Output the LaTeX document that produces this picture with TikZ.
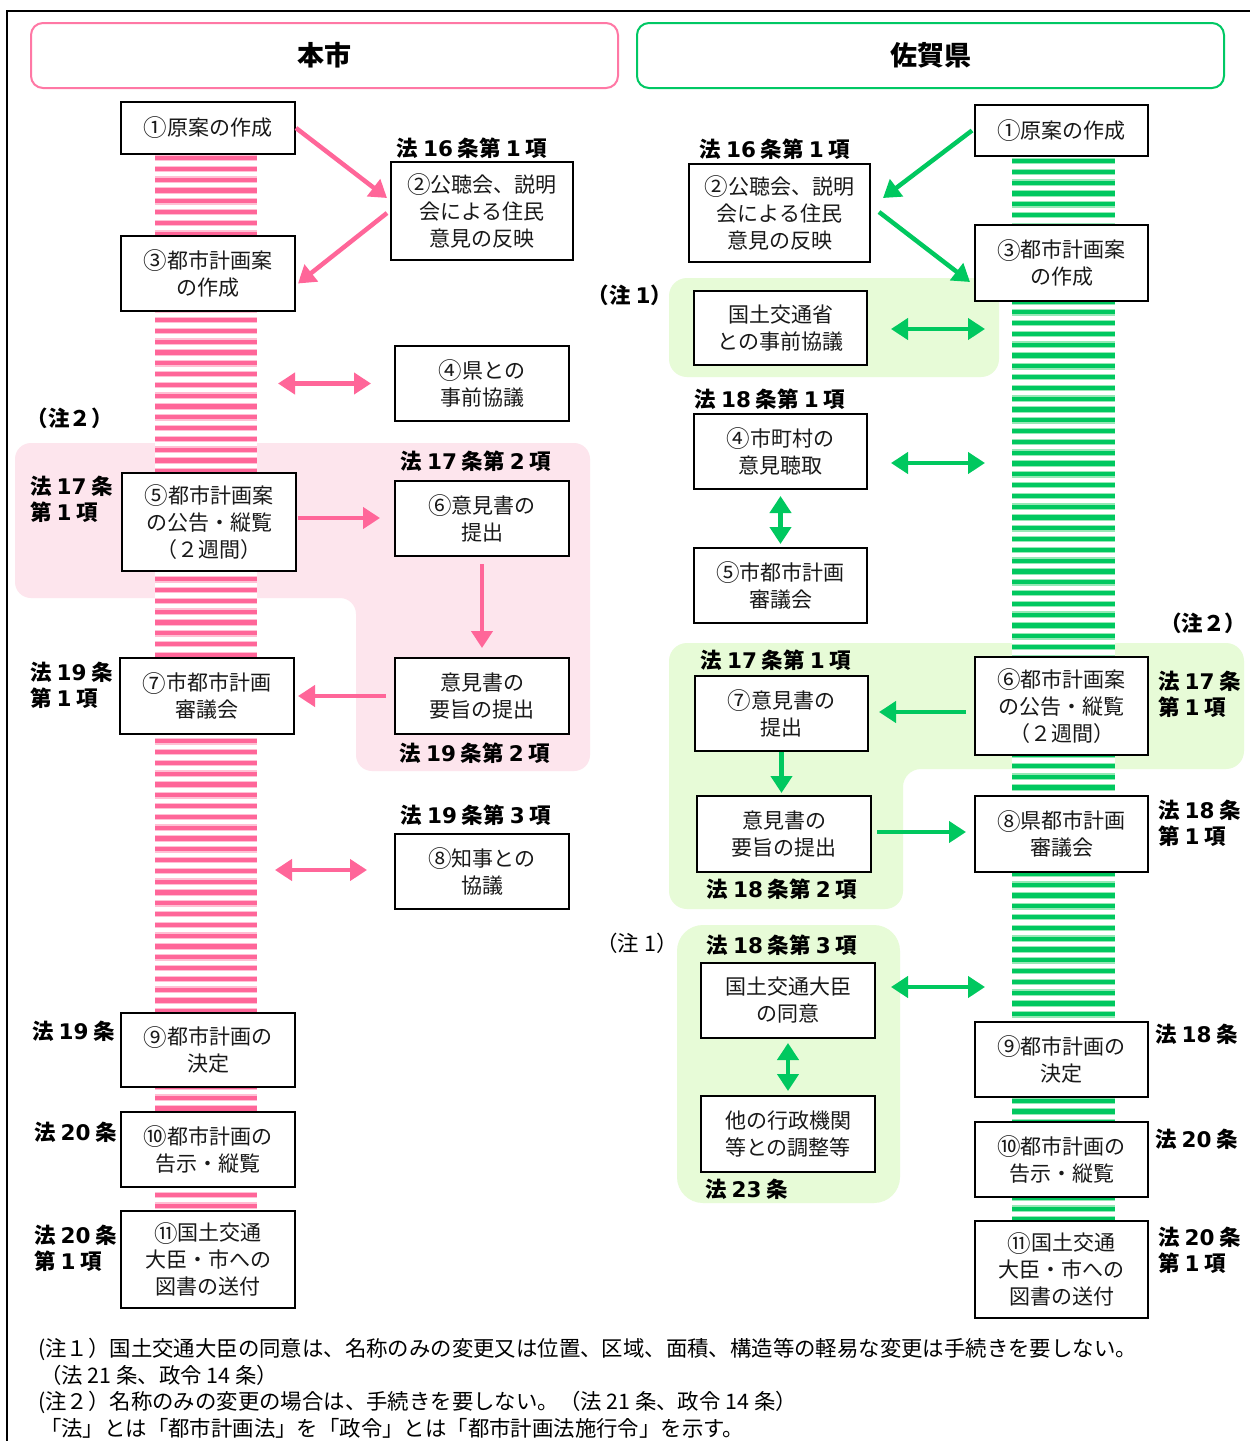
\documentclass[tikz,border=0pt]{standalone}
\usepackage{fontspec}
\usepackage{graphicx}
\setmainfont{Noto Sans CJK JP}
\newfontfamily\dvs{DejaVu Sans}
\usetikzlibrary{arrows.meta}
\definecolor{pinkD}{RGB}{255,102,153}
\definecolor{pinkL}{RGB}{255,192,212}
\definecolor{pinkR}{RGB}{253,229,237}
\definecolor{pinkH}{RGB}{255,120,165}
\definecolor{grnD}{RGB}{0,200,95}
\definecolor{grnL}{RGB}{150,232,182}
\definecolor{grnR}{RGB}{231,251,215}
\definecolor{grnH}{RGB}{0,200,100}
\newcommand\dg[1]{{\dvs #1}}
\newcommand\cn[1]{\raisebox{-0.06em}{\scalebox{1.12}{#1}}}
\begin{document}
\begin{tikzpicture}[x=1pt,y=-1pt,
  box/.style={draw=black, line width=2, fill=white, align=center, inner sep=0,
    text=black!90, font=\fontsize{21}{27}\selectfont},
  law/.style={inner sep=0, align=left, font=\fontsize{21.5}{26}\selectfont\bfseries},
  head/.style={rounded corners=12, line width=2, fill=white, minimum width=587,
    minimum height=65, font=\fontsize{27}{30}\selectfont\bfseries},
  tipA/.tip={Triangle[length=17,width=21]},
  parr/.style={draw=pinkD, line width=4.5, -tipA},
  pdbl/.style={draw=pinkD, line width=4.5, tipA-tipA},
  garr/.style={draw=grnD, line width=4.5, -tipA},
  gdbl/.style={draw=grnD, line width=4.5, tipA-tipA},
  note/.style={inner sep=0, anchor=west, font=\fontsize{21.4}{26}\selectfont}
]
\useasboundingbox (0,0) rectangle (1250,1441);
\fill[white] (0,0) rectangle (1250,1441);

% outer frame
\draw[line width=2] (7,1441) -- (7,11) -- (1250,11);

% headers
\node[head, draw=pinkH] (hL) at (324.5,55.5) {本市};
\node[head, draw=grnH] (hR) at (930.5,55.5) {佐賀県};

% shaded groups
\fill[pinkR, rounded corners=16] (15,443) -- (590,443) -- (590,771) -- (356,771)
  -- (356,598) -- (15,598) -- cycle;
\fill[grnR, rounded corners=18] (669,278) rectangle (999,377);
\fill[grnR, rounded corners=18] (669,643) -- (1244,643) -- (1244,769) -- (903,769)
  -- (903,909) -- (669,909) -- cycle;
\fill[grnR, rounded corners=26] (677,925) rectangle (900,1203);

% striped process bars
\fill[white] (155,155) rectangle (257,1211);
\foreach \i in {0,...,97}{
  \pgfmathsetmacro\yy{158+10.8*\i}
  \fill[pinkL] (155,\yy-3.3) rectangle (257,\yy+3.3);
  \fill[pinkD] (155,\yy-2.1) rectangle (257,\yy+2.1);
}
\fill[white] (1012,157) rectangle (1115,1221);
\foreach \i in {0,...,98}{
  \pgfmathsetmacro\yy{161+10.8*\i}
  \fill[grnL] (1012,\yy-3.3) rectangle (1115,\yy+3.3);
  \fill[grnD] (1012,\yy-2.1) rectangle (1115,\yy+2.1);
}

% ---- city column ----
\node[box, minimum width=174, minimum height=52] (L1) at (208,128) {\cn{①}原案の作成};
\node[box, minimum width=182, minimum height=98] (L2) at (482,211) {\cn{②}公聴会、説明\\会による住民\\意見の反映};
\node[box, minimum width=174, minimum height=75] (L3) at (208,273.5) {\cn{③}都市計画案\\の作成};
\node[box, minimum width=174, minimum height=75] (L4) at (482,383.5) {\cn{④}県との\\事前協議};
\node[box, minimum width=174, minimum height=98] (L5) at (209,522) {\cn{⑤}都市計画案\\の公告・縦覧\\（２週間）};
\node[box, minimum width=174, minimum height=75] (L6) at (482,518.5) {\cn{⑥}意見書の\\提出};
\node[box, minimum width=174, minimum height=76] (L6b) at (482,696) {意見書の\\要旨の提出};
\node[box, minimum width=174, minimum height=76] (L7) at (207,696) {\cn{⑦}市都市計画\\審議会};
\node[box, minimum width=174, minimum height=75] (L8) at (482,871.5) {\cn{⑧}知事との\\協議};
\node[box, minimum width=174, minimum height=74] (L9) at (208,1050) {\cn{⑨}都市計画の\\決定};
\node[box, minimum width=174, minimum height=75] (L10) at (208,1149.5) {\cn{⑩}都市計画の\\告示・縦覧};
\node[box, minimum width=174, minimum height=97] (L11) at (208,1259.5) {\cn{⑪}国土交通\\大臣・市への\\図書の送付};

\node[law] (aL16) at (472,148) {法 \dg{16} 条第 \dg{1} 項};
\node[law] (nL2) at (70,418) {（注２）};
\node[law, anchor=west] (aL17) at (30,499) {法 \dg{17} 条\\第 \dg{1} 項};
\node[law] (aL172) at (476,461) {法 \dg{17} 条第 \dg{2} 項};
\node[law] (aL192) at (475,753) {法 \dg{19} 条第 \dg{2} 項};
\node[law, anchor=west] (aL191) at (30,685) {法 \dg{19} 条\\第 \dg{1} 項};
\node[law] (aL193) at (476,815) {法 \dg{19} 条第 \dg{3} 項};
\node[law, anchor=west] (aL19) at (32,1031) {法 \dg{19} 条};
\node[law, anchor=west] (aL20) at (34,1132) {法 \dg{20} 条};
\node[law, anchor=west] (aL201) at (34,1248) {法 \dg{20} 条\\第 \dg{1} 項};

\coordinate (pb4) at (278,383.5);
\coordinate (pb8) at (275,870);
\draw[parr] (L1.east) -- ([xshift=-3,yshift=13]L2.west);
\draw[parr] ([xshift=-3,yshift=-2]L2.west) -- ([xshift=2,yshift=-10]L3.east);
\draw[pdbl] (pb4) -- ([xshift=-23]L4.west);
\draw[parr] ([xshift=1,yshift=4]L5.east) -- ([xshift=-14,yshift=4]L5.east -| L6.west);
\draw[parr] ([yshift=-7]L6.south) -- ([yshift=9]L6b.north);
\draw[parr] ([xshift=-8]L6b.west) -- ([xshift=3]L7.east);
\draw[pdbl] (pb8) -- ([xshift=-27,yshift=1.5]L8.west);

% ---- prefecture column ----
\node[box, minimum width=173, minimum height=51] (R1) at (1061.5,130.5) {\cn{①}原案の作成};
\node[box, minimum width=181, minimum height=98] (R2) at (779.5,213) {\cn{②}公聴会、説明\\会による住民\\意見の反映};
\node[box, minimum width=173, minimum height=76] (R3) at (1061.5,263) {\cn{③}都市計画案\\の作成};
\node[box, minimum width=173, minimum height=74] (Rm) at (780.5,328) {国土交通省\\との事前協議};
\node[box, minimum width=173, minimum height=75] (R4) at (780.5,451.5) {\cn{④}市町村の\\意見聴取};
\node[box, minimum width=173, minimum height=75] (R5) at (780.5,585.5) {\cn{⑤}市都市計画\\審議会};
\node[box, minimum width=173, minimum height=75] (R7) at (781.5,713.5) {\cn{⑦}意見書の\\提出};
\node[box, minimum width=173, minimum height=98] (R6) at (1061.5,706) {\cn{⑥}都市計画案\\の公告・縦覧\\（２週間）};
\node[box, minimum width=174, minimum height=76] (R7b) at (784,834) {意見書の\\要旨の提出};
\node[box, minimum width=173, minimum height=76] (R8) at (1061.5,834) {\cn{⑧}県都市計画\\審議会};
\node[box, minimum width=174, minimum height=75] (Rc) at (788,1000.5) {国土交通大臣\\の同意};
\node[box, minimum width=174, minimum height=76] (Ro) at (788,1134) {他の行政機関\\等との調整等};
\node[box, minimum width=173, minimum height=75] (R9) at (1061.5,1059.5) {\cn{⑨}都市計画の\\決定};
\node[box, minimum width=173, minimum height=75] (R10) at (1061.5,1159.5) {\cn{⑩}都市計画の\\告示・縦覧};
\node[box, minimum width=173, minimum height=97] (R11) at (1061.5,1269.5) {\cn{⑪}国土交通\\大臣・市への\\図書の送付};

\node[law] (aR16) at (775,149) {法 \dg{16} 条第 \dg{1} 項};
\node[law] (nR1a) at (630,295) {（注 \dg{1}）};
\node[law] (aR181) at (770,399) {法 \dg{18} 条第 \dg{1} 項};
\node[law] (nR2) at (1203,623) {（注２）};
\node[law] (aR171) at (776,660) {法 \dg{17} 条第 \dg{1} 項};
\node[law, anchor=west] (aR17) at (1158,694) {法 \dg{17} 条\\第 \dg{1} 項};
\node[law, anchor=west] (aR18) at (1158,823) {法 \dg{18} 条\\第 \dg{1} 項};
\node[law] (aR182) at (782,889) {法 \dg{18} 条第 \dg{2} 項};
\node[law, font=\fontsize{21.5}{26}\selectfont] (nR1b) at (637,943) {（注 1）};
\node[law] (aR183) at (782,945) {法 \dg{18} 条第 \dg{3} 項};
\node[law, anchor=west] (aR23) at (705,1189) {法 \dg{23} 条};
\node[law, anchor=west] (aR18b) at (1155,1034) {法 \dg{18} 条};
\node[law, anchor=west] (aR20) at (1155,1139) {法 \dg{20} 条};
\node[law, anchor=west] (aR201) at (1158,1250) {法 \dg{20} 条\\第 \dg{1} 項};

\coordinate (gb1) at (985,329);
\coordinate (gb4) at (985,463);
\coordinate (gbc) at (985,987);
\draw[garr] ([xshift=-2]R1.west) -- ([xshift=12,yshift=15]R2.east);
\draw[garr] ([xshift=8,yshift=1]R2.east) -- ([xshift=-4,yshift=-19]R3.west);
\draw[gdbl] ([xshift=23,yshift=-1]Rm.east) -- (gb1);
\draw[gdbl] ([xshift=23,yshift=-11.5]R4.east) -- (gb4);
\draw[gdbl] ([yshift=-6]R4.south) -- ([yshift=3]R5.north);
\draw[garr] ([xshift=-8,yshift=-6]R6.west) -- ([xshift=10,yshift=1.5]R7.east);
\draw[garr] (R7.south) -- ([yshift=2]R7.south |- R7b.north);
\draw[garr] ([xshift=5,yshift=2]R7b.east) -- ([xshift=-8,yshift=2]R8.west);
\draw[gdbl] ([xshift=15,yshift=13.5]Rc.east) -- (gbc);
\draw[gdbl] ([yshift=-4]Rc.south) -- ([yshift=4]Ro.north);

% ---- notes ----
\node[note] (fn1) at (38,1349) {(注１）国土交通大臣の同意は、名称のみの変更又は位置、区域、面積、構造等の軽易な変更は手続きを要しない。};
\node[note] (fn2) at (40,1375) {（法 21 条、政令 14 条）};
\node[note] (fn3) at (38,1402) {(注２）名称のみの変更の場合は、手続きを要しない。（法 21 条、政令 14 条）};
\node[note] (fn4) at (40,1428) {「法」とは「都市計画法」を「政令」とは「都市計画法施行令」を示す。};
\end{tikzpicture}
\end{document}
